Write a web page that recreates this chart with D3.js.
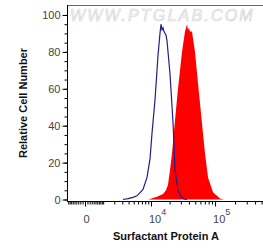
<!DOCTYPE html>
<html lang="en">
<head>
<meta charset="UTF-8">
<script src="https://cdnjs.cloudflare.com/ajax/libs/d3/7.8.5/d3.min.js"></script>
<style>
  body { margin: 0; background: #fff; }
  svg text { font-family: "Liberation Sans", Arial, sans-serif; }
</style>
</head>
<body>
<div id="graph"></div>
<script>
// isotype control (blue outline) - intensity / relative count
let blueX = [3100, 3900, 4850, 5740, 7320, 8570, 9630, 10400, 11650, 13040, 14050, 14580,
             15150, 15710, 16300, 17540, 18200, 20300, 22630, 24320, 27090, 30180, 33580, 37360];
let blueY = [0, 0.5, 1.2, 2, 5.5, 12, 22, 36, 54, 78, 90, 95,
             92, 93, 91, 89, 86, 68, 42, 16, 5, 1.5, 0.3, 0];

// Surfactant Protein A stained (red filled)
let redX = [9000, 12570, 15710, 17540, 18870, 20300, 21830, 24320, 27090, 31270, 34790, 37360,
            38710, 40100, 41530, 44580, 49570, 55090, 63410, 70420, 78220, 93080, 118800, 136500];
let redY = [0, 1.5, 3, 5, 8, 16, 25, 43, 60, 80, 91, 95,
            92, 93, 91, 91, 80, 63, 41, 25, 12, 4, 0.5, 0];

// axis ticks
let yMajor = [0, 20, 40, 60, 80, 100];
let yMinor = d3.range(0, 105, 5);
let xMajor = [0, 1e4, 1e5];
let xMajorLabels = ["0", "10|4", "10|5"];
let xMinor = d3.range(-900, 1000, 100)
  .concat(d3.range(1000, 10000, 1000))
  .concat(d3.range(20000, 100000, 10000))
  .concat(d3.range(200000, 600000, 100000));

let width = 263, height = 249;
let plotLeft = 67, plotRight = 263, plotTop = 5, plotBottom = 201;

let svg = d3.select("#graph").append("svg")
  .attr("width", width)
  .attr("height", height);

// logicle-like x scale
let x = d3.scaleSymlog().constant(1150)
  .domain([-987, 525600])
  .range([plotLeft, plotRight]);

let y = d3.scaleLinear()
  .domain([-0.8, 105.4])
  .range([plotBottom, plotTop]);

// watermark
svg.append("text")
  .attr("x", 70)
  .attr("y", 20.5)
  .attr("font-size", 16)
  .attr("font-style", "italic")
  .attr("letter-spacing", 2.2)
  .attr("fill", "#fafafa")
  .attr("stroke", "#d2d2d2")
  .attr("stroke-width", 0.6)
  .text("WWW.PTGLAB.COM");

// red filled histogram
let area = d3.area()
  .x(function(d, i) { return x(redX[i]); })
  .y0(y(0))
  .y1(function(d) { return y(d); });

svg.append("path")
  .datum(redY)
  .attr("d", area)
  .attr("fill", "#ff0000");

// blue outline histogram
let line = d3.line()
  .x(function(d, i) { return x(blueX[i]); })
  .y(function(d) { return y(d); });

svg.append("path")
  .datum(blueY)
  .attr("d", line)
  .attr("fill", "none")
  .attr("stroke", "#1f1f8f")
  .attr("stroke-width", 1.2);

// top frame
svg.append("line")
  .attr("x1", plotLeft).attr("x2", plotRight)
  .attr("y1", plotTop + 0.5).attr("y2", plotTop + 0.5)
  .attr("stroke", "#666");

// y axis
let yMinorAxis = svg.append("g")
  .attr("transform", "translate(" + (plotLeft + 0.5) + ",0)")
  .call(d3.axisLeft(y).tickValues(yMinor).tickSize(3).tickSizeOuter(0).tickFormat(""));
yMinorAxis.select(".domain").remove();

let yAxis = svg.append("g")
  .attr("transform", "translate(" + (plotLeft + 0.5) + ",0)")
  .call(d3.axisLeft(y).tickValues(yMajor).tickSize(5).tickSizeOuter(0).tickPadding(2));
yAxis.select(".domain").attr("d", "M0," + plotTop + "V" + plotBottom);
yAxis.selectAll("text").attr("font-size", 11).attr("fill", "#444")
  .attr("font-family", "'Liberation Sans', Arial, sans-serif");

// x axis
let xMinorAxis = svg.append("g")
  .attr("transform", "translate(0," + (plotBottom + 0.5) + ")")
  .call(d3.axisBottom(x).tickValues(xMinor).tickSize(3).tickSizeOuter(0).tickFormat(""));
xMinorAxis.select(".domain").attr("d", "M" + plotLeft + ",0H" + plotRight);

let xAxis = svg.append("g")
  .attr("transform", "translate(0," + (plotBottom + 0.5) + ")")
  .call(d3.axisBottom(x).tickValues(xMajor).tickSize(5).tickSizeOuter(0).tickFormat(""));
xAxis.select(".domain").remove();

// x tick labels with superscripts
xMajor.forEach(function(v, i) {
  let parts = xMajorLabels[i].split("|");
  let t = svg.append("text")
    .attr("y", 222.5)
    .attr("font-size", 11)
    .attr("fill", "#444");
  if (parts.length === 1) {
    t.attr("x", x(v) + 1.5).attr("text-anchor", "middle").text(parts[0]);
  } else {
    t.attr("x", x(v) - 2).attr("text-anchor", "start");
    t.append("tspan").text(parts[0]);
    t.append("tspan").attr("dy", -7.5).attr("font-size", 9).text(parts[1]);
  }
});

// axis titles
svg.append("text")
  .attr("x", 166)
  .attr("y", 240)
  .attr("text-anchor", "middle")
  .attr("font-size", 11)
  .attr("font-weight", "bold")
  .attr("fill", "#111")
  .text("Surfactant Protein A");

svg.append("text")
  .attr("transform", "translate(26.5,103) rotate(-90)")
  .attr("text-anchor", "middle")
  .attr("font-size", 11)
  .attr("font-weight", "bold")
  .attr("fill", "#111")
  .text("Relative Cell Number");
</script>
</body>
</html>
